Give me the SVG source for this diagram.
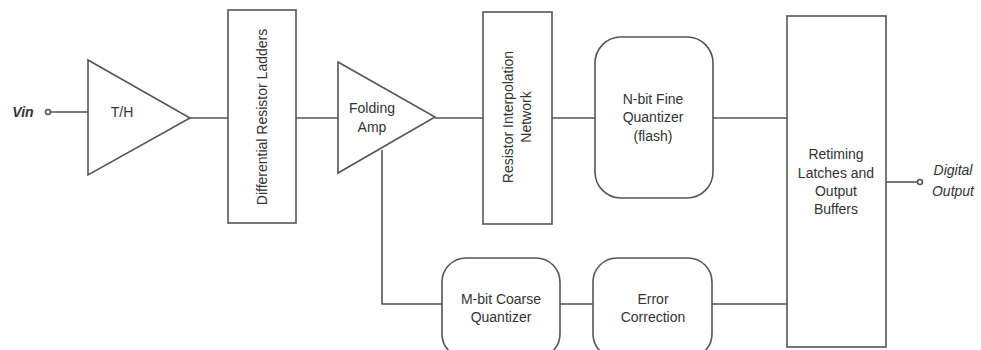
<svg xmlns="http://www.w3.org/2000/svg" width="981" height="350" viewBox="0 0 981 350">
<style>
.s{fill:#fff;stroke:#555;stroke-width:1.6}
.w{fill:none;stroke:#555;stroke-width:1.6}
.t{font-family:"Liberation Sans",Arial,sans-serif;font-size:14px;fill:#333;text-anchor:middle;dominant-baseline:central}
.i{font-style:italic}
</style>
<rect width="981" height="350" fill="#fff"/>
<g id="connectors">
<line class="w" x1="51" y1="112" x2="88" y2="112"/>
<line class="w" x1="190" y1="118" x2="228" y2="118"/>
<line class="w" x1="296" y1="118" x2="338" y2="118"/>
<line class="w" x1="435" y1="118" x2="483" y2="118"/>
<line class="w" x1="552" y1="118" x2="595" y2="118"/>
<line class="w" x1="713" y1="118" x2="787" y2="118"/>
<polyline class="w" points="382,150 382,304 442,304"/>
<line class="w" x1="560" y1="304" x2="593" y2="304"/>
<line class="w" x1="712" y1="304" x2="787" y2="304"/>
<line class="w" x1="886" y1="182" x2="917" y2="182"/>
</g>
<g id="vin">
<text class="t i" x="23" y="112" font-weight="bold">Vin</text>
<circle class="s" cx="48" cy="112" r="2.5"/>
</g>
<g id="th">
<polygon class="s" points="88,60 190,118 88,175"/>
<text class="t" x="122" y="112">T/H</text>
</g>
<g id="ladders">
<rect class="s" x="228" y="10" width="68" height="213"/>
<text class="t" transform="translate(262,117) rotate(-90)">Differential Resistor Ladders</text>
</g>
<g id="folding">
<polygon class="s" points="338,62 435,117 338,173"/>
<text class="t" x="372" y="108">Folding</text>
<text class="t" x="372" y="127">Amp</text>
</g>
<g id="interp">
<rect class="s" x="483" y="12" width="69" height="212"/>
<text class="t" transform="translate(508,117) rotate(-90)">Resistor Interpolation</text>
<text class="t" transform="translate(526,117) rotate(-90)">Network</text>
</g>
<g id="fine">
<rect class="s" x="595" y="37" width="118" height="161" rx="26"/>
<text class="t" x="653" y="99">N-bit Fine</text>
<text class="t" x="653" y="117">Quantizer</text>
<text class="t" x="653" y="136">(flash)</text>
</g>
<g id="retiming">
<rect class="s" x="787" y="16" width="99" height="331"/>
<text class="t" x="836" y="154">Retiming</text>
<text class="t" x="836" y="173">Latches and</text>
<text class="t" x="836" y="191">Output</text>
<text class="t" x="836" y="209">Buffers</text>
</g>
<g id="coarse">
<rect class="s" x="442" y="258" width="118" height="100" rx="24"/>
<text class="t" x="501" y="299">M-bit Coarse</text>
<text class="t" x="501" y="317">Quantizer</text>
</g>
<g id="error">
<rect class="s" x="593" y="258" width="119" height="100" rx="24"/>
<text class="t" x="653" y="299">Error</text>
<text class="t" x="653" y="317">Correction</text>
</g>
<g id="output">
<circle class="s" cx="920" cy="182" r="2.5"/>
<text class="t i" x="953" y="170">Digital</text>
<text class="t i" x="953" y="191">Output</text>
</g>
</svg>
